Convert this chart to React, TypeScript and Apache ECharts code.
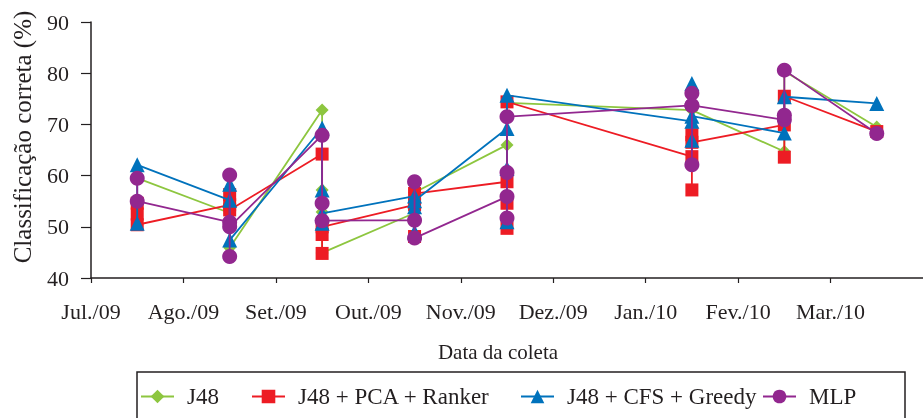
import React, { useEffect, useRef } from "react";
import * as echarts from "echarts";

const monthLabels = ["Jul./09", "Ago./09", "Set./09", "Out./09", "Nov./09", "Dez./09", "Jan./10", "Fev./10", "Mar./10"];
const collectionDates = [0.5, 1.5, 2.5, 3.5, 4.5, 6.5, 7.5, 8.5];

const j48 = [[59.5], [52.7, 45.9], [72.8, 57.2, 52.9, 44.9], [52.7, 56.7], [66.0, 60.0, 51.0, 74.2], [72.8], [64.7, 80.4], [69.5]];
const pcaRanker = [[54.6, 52.5, 50.4], [54.3, 56.3, 53.3], [64.2, 44.8, 48.5, 50.0], [54.3, 48.1, 56.5], [58.8, 54.6, 49.7, 74.4], [63.7, 57.2, 68.0, 66.5], [69.9, 63.6, 75.5], [68.6]];
const cfsGreedy = [[50.7, 62.1], [55.2, 58.3, 47.4], [69.3, 50.7, 57.2, 52.6], [56.0, 49.0, 53.9, 55.1], [69.2, 51.0, 61.4, 75.7], [70.6, 78.0, 66.9, 71.6], [68.3, 75.4], [74.1]];
const mlp = [[59.5, 55.0], [50.9, 60.1, 44.2, 50.0], [67.9, 54.6, 51.2], [51.3, 58.8, 47.8], [55.9, 51.7, 60.6, 71.5], [73.7, 76.1, 62.1, 73.7], [70.9, 71.8, 80.6], [68.2]];

const seriesNames = ["J48", "J48 + PCA + Ranker", "J48 + CFS + Greedy", "MLP"];
const seriesColors = ["#8dc63f", "#ed1c24", "#0072bc", "#92278f"];
const seriesSymbols = ["diamond", "rect", "triangle", "circle"];
const seriesSymbolSizes = [13, 13, 15, 15];
const legendLefts = [140, 251, 520, 762];
const yTicks = { min: 40, max: 90, interval: 10 };

const FONT = "Liberation Serif";
const INK = "#231f20";

function toPoints(groups: number[][]) {
  const pts: number[][] = [];
  groups.forEach((vals, i) => {
    vals.forEach((v) => pts.push([collectionDates[i], v]));
  });
  return pts;
}

export default function App() {
  const ref = useRef<HTMLDivElement>(null);
  useEffect(() => {
    if (!ref.current) return;
    const chart = echarts.init(ref.current, null, { renderer: "svg" });
    const all = [j48, pcaRanker, cfsGreedy, mlp];
    chart.setOption({
      animation: false,
      textStyle: { fontFamily: FONT },
      grid: { left: 91, right: -10, top: 22, bottom: 140, containLabel: false },
      xAxis: {
        type: "value",
        min: 0,
        max: 9,
        interval: 1,
        axisLine: { show: true, onZero: false, lineStyle: { color: INK, width: 1.5 } },
        axisTick: { show: true, length: 5, lineStyle: { color: INK, width: 1.2 } },
        axisLabel: {
          color: INK,
          fontFamily: FONT,
          fontSize: 22,
          margin: 22,
          showMaxLabel: false,
          formatter: (v: number) => (Number.isInteger(v) && monthLabels[v] ? monthLabels[v] : ""),
        },
        splitLine: { show: false },
      },
      yAxis: {
        type: "value",
        min: yTicks.min,
        max: yTicks.max,
        interval: yTicks.interval,
        axisLine: { show: true, lineStyle: { color: INK, width: 1.5 } },
        axisTick: { show: true, length: 10, lineStyle: { color: INK, width: 1.2 } },
        axisLabel: { color: INK, fontFamily: FONT, fontSize: 22, margin: 22 },
        splitLine: { show: false },
      },
      legend: seriesNames.map((n, i) => ({
        left: legendLefts[i],
        top: 385,
        padding: 0,
        itemWidth: 33,
        itemHeight: 17,
        textStyle: { color: INK, fontFamily: FONT, fontSize: 23, padding: [0, 0, 0, 8] },
        data: [n],
      })),
      graphic: [
        {
          type: "rect",
          shape: { x: 137, y: 372, width: 768, height: 60 },
          style: { fill: "none", stroke: INK, lineWidth: 1.5 },
          silent: true,
        },
        {
          type: "text",
          x: 22,
          y: 137,
          rotation: Math.PI / 2,
          style: {
            text: "Classificação correta (%)",
            fill: INK,
            font: `25px '${FONT}'`,
            align: "center",
            verticalAlign: "middle",
          },
        },
        {
          type: "text",
          x: 498,
          y: 352,
          style: {
            text: "Data da coleta",
            fill: INK,
            font: `21px '${FONT}'`,
            align: "center",
            verticalAlign: "middle",
          },
        },
      ],
      series: all.map((g, i) => ({
        name: seriesNames[i],
        type: "line",
        data: toPoints(g),
        symbol: seriesSymbols[i],
        symbolSize: seriesSymbolSizes[i],
        showAllSymbol: true,
        color: seriesColors[i],
        lineStyle: { color: seriesColors[i], width: 1.8 },
        itemStyle: { color: seriesColors[i] },
        z: 2 + i,
      })),
    });
    return () => chart.dispose();
  }, []);
  return <div ref={ref} style={{ position: "fixed", left: 0, top: 0, width: 923, height: 418 }} />;
}
